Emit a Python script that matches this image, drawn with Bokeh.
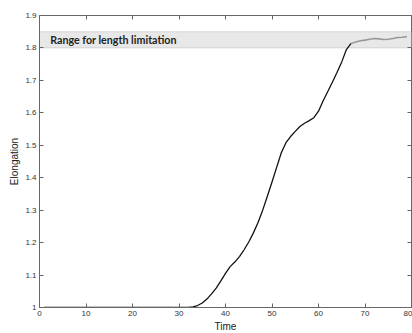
from bokeh.plotting import figure
from bokeh.models import BoxAnnotation, LinearAxis, Range1d, FixedTicker, Label
from bokeh.embed import file_html
from bokeh.resources import INLINE

# Data
time_main = [1, 10, 20, 30, 32, 33, 34, 35, 36, 37, 38, 39, 40, 41, 42, 43, 44, 45,
             46, 47, 48, 49, 50, 51, 52, 53, 54, 55, 56, 57, 58, 59, 60, 61, 62,
             63, 64, 65, 66, 67]
elong_main = [1.0, 1.0, 1.0, 1.0, 1.0, 1.002, 1.006, 1.014, 1.026, 1.042, 1.06,
              1.082, 1.105, 1.126, 1.14, 1.157, 1.178, 1.202, 1.23, 1.262, 1.30,
              1.343, 1.387, 1.432, 1.477, 1.508, 1.527, 1.543, 1.558, 1.568,
              1.576, 1.585, 1.605, 1.637, 1.666, 1.695, 1.725, 1.757, 1.795, 1.814]
time_limit = [67, 68, 69, 70, 71, 72, 73, 74, 75, 76, 77, 78, 79]
elong_limit = [1.814, 1.818, 1.822, 1.824, 1.827, 1.829, 1.828, 1.826, 1.827,
               1.829, 1.832, 1.833, 1.835]

band_low = 1.80
band_high = 1.85
band_text = "Range for length limitation"
band_text_x = 2.3
band_text_y = 1.825

xticks = [0, 10, 20, 30, 40, 50, 60, 70, 80]
yticks = [1.0, 1.1, 1.2, 1.3, 1.4, 1.5, 1.6, 1.7, 1.8, 1.9]
ytick_labels = ["1", "1.1", "1.2", "1.3", "1.4", "1.5", "1.6", "1.7", "1.8", "1.9"]

AX = "#666666"
TXT = "#333333"

p = figure(frame_width=372, frame_height=292,
           x_range=Range1d(0, 80), y_range=Range1d(1.0, 1.9),
           output_backend="svg", toolbar_location=None,
           min_border_left=39, min_border_top=15, min_border_right=1,
           min_border_bottom=26, x_axis_label="Time", y_axis_label="Elongation")
p.grid.visible = False
p.outline_line_color = AX
p.outline_line_width = 1
p.background_fill_color = "white"

for ax in p.xaxis + p.yaxis:
    ax.major_tick_in = 4
    ax.major_tick_out = 0
    ax.minor_tick_line_color = None
    ax.axis_line_color = AX
    ax.major_tick_line_color = AX
    ax.major_label_text_font = "Liberation Sans"
    ax.major_label_text_font_size = "8px"
    ax.major_label_text_color = TXT
    ax.axis_label_text_font = "Liberation Sans"
    ax.axis_label_text_font_size = "10px"
    ax.axis_label_text_font_style = "normal"
    ax.axis_label_text_color = "#222222"
    ax.major_label_standoff = 3
    ax.axis_label_standoff = 2

p.xaxis.ticker = FixedTicker(ticks=xticks)
p.yaxis.ticker = FixedTicker(ticks=yticks)
p.yaxis.major_label_overrides = dict(zip(yticks, ytick_labels))

for loc, tk in (("above", xticks), ("right", yticks)):
    a = LinearAxis(ticker=FixedTicker(ticks=tk), major_tick_in=4, major_tick_out=0,
                   minor_tick_line_color=None, axis_line_color=None,
                   major_tick_line_color=AX, major_label_text_color=None,
                   major_label_text_alpha=0, major_label_text_font_size="1px",
                   major_label_standoff=0)
    p.add_layout(a, loc)

band = BoxAnnotation(bottom=band_low, top=band_high, fill_color="#e8e8e8",
                     fill_alpha=1.0, line_color="#999999", line_width=1, level="underlay")
p.add_layout(band)

p.add_layout(Label(x=band_text_x, y=band_text_y, text=band_text,
                   text_font="Lato", text_font_style="bold", text_font_size="10.7px",
                   text_baseline="middle", text_color="#222222"))

p.line(time_main, elong_main, line_color="#111111", line_width=1.3)
p.line(time_limit, elong_limit, line_color="#999999", line_width=1.6)

open("out.html", "w").write(file_html(p, INLINE))
